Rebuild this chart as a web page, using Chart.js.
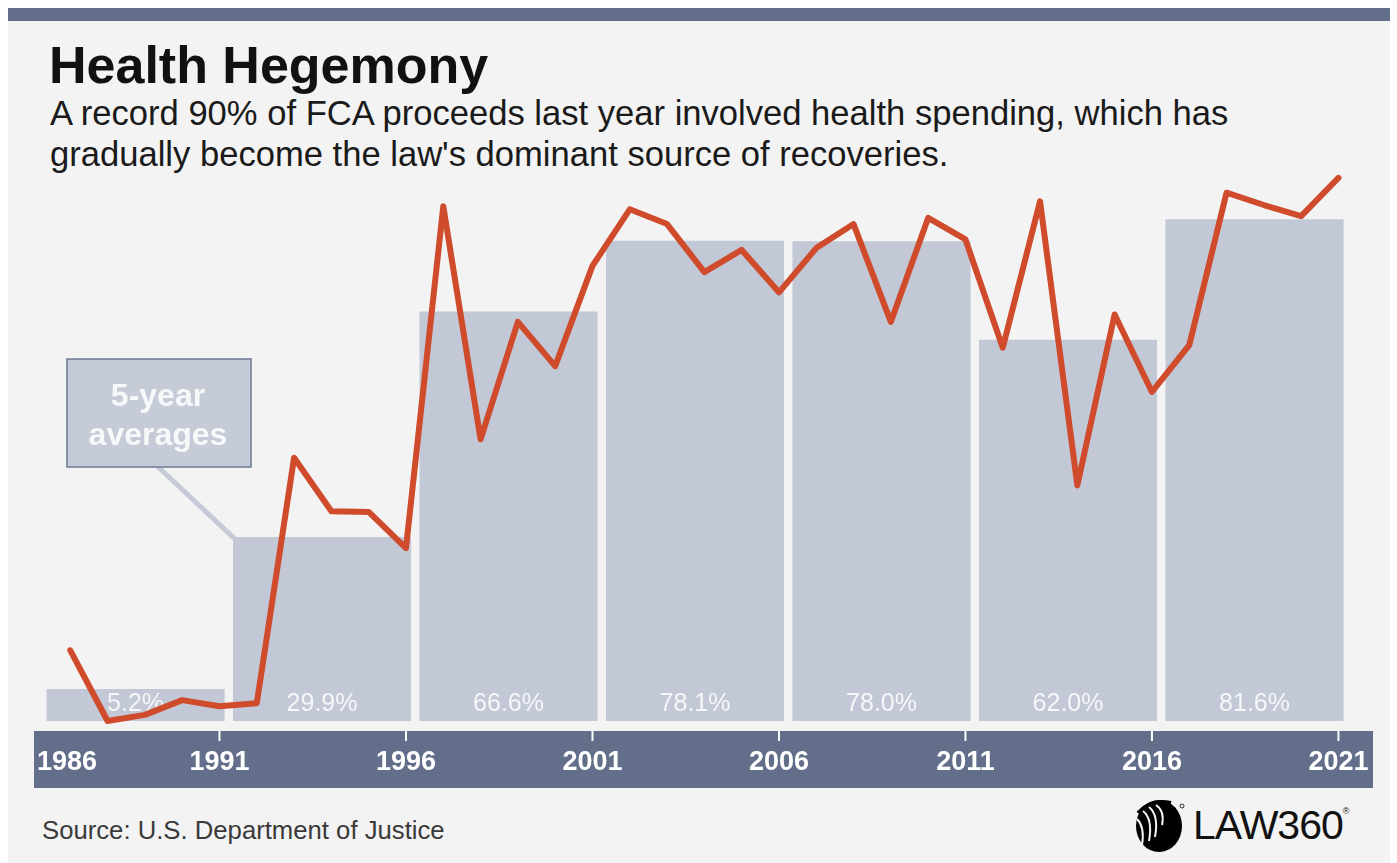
<!DOCTYPE html>
<html>
<head>
<meta charset="utf-8">
<title>Health Hegemony</title>
<script src="https://cdn.jsdelivr.net/npm/chart.js@4.4.1/dist/chart.umd.min.js"></script>
<style>
    html, body { margin: 0; padding: 0; background: #ffffff; }
    body { width: 1397px; height: 863px; position: relative; overflow: hidden; font-family: "Liberation Sans", Arial, sans-serif; }
    #panel { position: absolute; left: 8px; top: 8px; width: 1382px; height: 855px; background: #f3f3f3; }
    #topbar { position: absolute; left: 8px; top: 8px; width: 1382px; height: 13px; background: #636e8a; }
    #title { position: absolute; left: 49px; top: 39px; font-size: 52px; line-height: 52px; font-weight: bold; color: #111; white-space: nowrap; }
    #subtitle { position: absolute; left: 50px; top: 93px; font-size: 34.6px; line-height: 41px; color: #1a1a1a; white-space: nowrap; }
    #source { position: absolute; left: 42px; top: 818px; font-size: 25.7px; line-height: 25px; color: #3a3a3a; white-space: nowrap; }
    #logo { position: absolute; left: 1131px; top: 797px; height: 56px; display: flex; align-items: center; }
    #logo span { font-size: 41px; color: #111; letter-spacing: -1px; margin-left: 8px; }
    #logo sup { font-size: 9px; vertical-align: top; position: relative; top: 4px; }
    #chart { position: absolute; left: 0; top: 0; }
</style>
</head>
<body>
<div id="panel"></div>
<div id="topbar"></div>
<div id="title">Health Hegemony</div>
<div id="subtitle">A record 90% of FCA proceeds last year involved health spending, which has<br>gradually become the law's dominant source of recoveries.</div>
<div id="source">Source: U.S. Department of Justice</div>
<div id="logo">
    <svg width="54" height="56" viewBox="0 0 54 56">
        <ellipse cx="28" cy="29" rx="23" ry="26" fill="#000"/>
        <path d="M7 16 Q20 2 40 6" stroke="#000" stroke-width="4" fill="none"/>
        <path d="M12 14 Q22 22 18 44" stroke="#f3f3f3" stroke-width="2" fill="none"/>
        <path d="M18 10 Q28 18 24 40" stroke="#f3f3f3" stroke-width="2" fill="none"/>
        <path d="M25 8 Q34 14 31 28" stroke="#f3f3f3" stroke-width="2" fill="none"/>
        <path d="M6 22 Q14 30 11 48" stroke="#f3f3f3" stroke-width="2" fill="none"/>
        <circle cx="51" cy="9" r="2" fill="none" stroke="#000" stroke-width="0.8"/>
    </svg>
    <span>LAW360<sup>®</sup></span>
</div>
<canvas id="chart" width="1397" height="863"></canvas>

<script>
// yearly share of FCA recoveries tied to health spending (%)
const years = [1987, 1988, 1989, 1990, 1991, 1992, 1993, 1994, 1995, 1996,
    1997, 1998, 1999, 2000, 2001, 2002, 2003, 2004, 2005, 2006,
    2007, 2008, 2009, 2010, 2011, 2012, 2013, 2014, 2015, 2016,
    2017, 2018, 2019, 2020, 2021];
const healthShare = [11.5, 0.0, 1.0, 3.4, 2.4, 2.9, 42.8, 34.1, 34.0, 28.1,
    83.7, 45.8, 64.9, 57.7, 74.0, 83.2, 80.8, 73.0, 76.6, 69.7,
    76.9, 80.8, 64.9, 81.8, 78.3, 60.7, 84.5, 38.3, 66.1, 53.5,
    61.1, 85.9, 83.9, 82.1, 88.3];

// 5-year averages
const periodStart = [1987, 1992, 1997, 2002, 2007, 2012, 2017];
const periodEnd = [1991, 1996, 2001, 2006, 2011, 2016, 2021];
const periodAvg = [5.2, 29.9, 66.6, 78.1, 78.0, 62.0, 81.6];

const tickYears = [1986, 1991, 1996, 2001, 2006, 2011, 2016, 2021];

const BAR_COLOR = "#c2c8d5";
const BAND_COLOR = "#636e8a";
const LINE_COLOR = "#cf4b2c";

const decor = {
    id: "decor",
    beforeDatasetsDraw(chart) {
        const { ctx, chartArea, scales } = chart;
        const x = scales.x;
        ctx.save();

        // year band under the plot
        const bandTop = chartArea.bottom + 10;
        const bandH = 57;
        ctx.fillStyle = BAND_COLOR;
        ctx.fillRect(chartArea.left + 1, bandTop, chartArea.right - chartArea.left, bandH);

        ctx.font = "bold 27px 'Liberation Sans', Arial, sans-serif";
        ctx.fillStyle = "#ffffff";
        ctx.textBaseline = "middle";
        tickYears.forEach((yr, i) => {
            const px = x.getPixelForValue(yr);
            const label = String(yr);
            const w = ctx.measureText(label).width;
            if (i > 0) {
                ctx.strokeStyle = "#ffffff";
                ctx.lineWidth = 2;
                ctx.beginPath();
                ctx.moveTo(px, bandTop);
                ctx.lineTo(px, bandTop + 10);
                ctx.stroke();
            }
            let left = px - w / 2;
            if (left < chartArea.left + 4) left = chartArea.left + 4;
            ctx.textAlign = "left";
            ctx.fillText(label, left, bandTop + 32);
        });

        // callout box pointing at the second average bar
        const bar = chart.getDatasetMeta(0).data[1];
        ctx.strokeStyle = "#c5cad6";
        ctx.lineWidth = 5;
        ctx.beginPath();
        ctx.moveTo(155, 464);
        ctx.lineTo(bar.x - bar.width / 2 + 1, bar.y + 1);
        ctx.stroke();

        ctx.fillStyle = "#c6cbd8";
        ctx.fillRect(67, 359, 184, 108);
        ctx.strokeStyle = "#6d7894";
        ctx.lineWidth = 1.5;
        ctx.strokeRect(67, 359, 184, 108);
        ctx.fillStyle = "#f7f8fa";
        ctx.font = "bold 32px 'Liberation Sans', Arial, sans-serif";
        ctx.textAlign = "center";
        ctx.fillText("5-year", 158, 397);
        ctx.fillText("averages", 158, 436);
        ctx.restore();
    },
    afterDatasetDraw(chart, args) {
        if (args.index !== 0) return;
        const { ctx, scales } = chart;
        const base = scales.y.getPixelForValue(0);
        ctx.save();
        ctx.font = "25px 'Liberation Sans', Arial, sans-serif";
        ctx.fillStyle = "rgba(255,255,255,0.85)";
        ctx.textAlign = "center";
        ctx.textBaseline = "alphabetic";
        args.meta.data.forEach((bar, i) => {
            ctx.fillText(periodAvg[i].toFixed(1) + "%", bar.x, base - 10);
        });
        ctx.restore();
    }
};

new Chart(document.getElementById("chart"), {
    type: "bar",
    data: {
        datasets: [
            {
                type: "bar",
                label: "5-year average",
                // bars sit a touch left of the period mean, as in the original
                data: periodAvg.map((v, i) => ({ x: (periodStart[i] + periodEnd[i]) / 2 - 0.25, y: v })),
                backgroundColor: BAR_COLOR,
                borderWidth: 0,
                categoryPercentage: 1,
                barPercentage: 0.955,
                order: 1
            },
            {
                type: "line",
                label: "Health share",
                data: years.map((yr, i) => ({ x: yr, y: healthShare[i] })),
                borderColor: LINE_COLOR,
                borderWidth: 6,
                borderJoinStyle: "round",
                borderCapStyle: "round",
                tension: 0,
                pointRadius: 0,
                fill: false,
                clip: false,
                order: 0
            }
        ]
    },
    options: {
        responsive: false,
        animation: false,
        layout: { padding: { left: 33, right: 25, top: 106, bottom: 142 } },
        plugins: { legend: { display: false }, tooltip: { enabled: false } },
        scales: {
            x: {
                type: "linear", min: 1986, max: 2021.9, offset: false, display: false,
                afterBuildTicks: (s) => { s.ticks = tickYears.map(v => ({ value: v })); }
            },
            y: { min: 0, max: 100, display: false }
        }
    },
    plugins: [decor]
});
</script>
</body>
</html>
